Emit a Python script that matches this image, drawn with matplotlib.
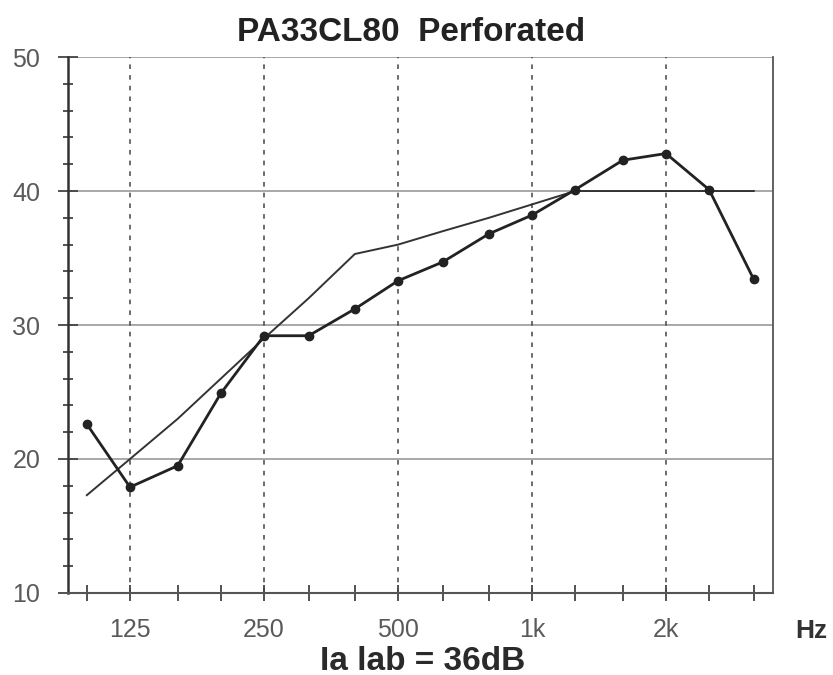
"""
Courbe d'isolement PA33CL80 perfore : mesure en tiers d'octave + courbe de reference.
Sortie : out.png
"""
import matplotlib
matplotlib.use("Agg")
import matplotlib.pyplot as plt
from matplotlib.ticker import FixedLocator, NullFormatter

plt.rcParams["font.family"] = ["Liberation Sans", "DejaVu Sans"]

# %% Donnees
freqs = [100, 125, 160, 200, 250, 315, 400, 500, 630, 800,
         1000, 1250, 1600, 2000, 2500, 3150]
measured = [22.6, 17.9, 19.5, 24.9, 29.2, 29.2, 31.2, 33.3, 34.7, 36.8,
            38.2, 40.1, 42.3, 42.8, 40.1, 33.4]
reference = [17.3, 20, 23, 26, 29, 32, 35.3, 36, 37, 38,
             39, 40, 40, 40, 40, 40]

grid_freqs = [125, 250, 500, 1000, 2000]
grid_labels = ["125", "250", "500", "1k", "2k"]
y_levels = [10, 20, 30, 40, 50]

title = "PA33CL80  Perforated"
result_text = "Ia lab = 36dB"

# %% Figure
fig = plt.figure(figsize=(8.33, 6.75), dpi=100)
ax = fig.add_axes([0.0816, 0.1215, 0.8463, 0.794])
ax.set_xscale("log")
ax.set_xlim(90.7, 3478)
ax.set_ylim(10, 50)

for y in [20, 30, 40, 50]:
    ax.axhline(y, color="#9a9a9a", lw=1.2, zorder=1)
for f in grid_freqs:
    ax.axvline(f, color="#444444", lw=1.1, ls=(0, (3, 4)), zorder=1)

ax.plot(freqs, reference, color="#333333", lw=1.4, zorder=2)
ax.plot(freqs, measured, color="#222222", lw=2.0, marker="o",
        markersize=6, zorder=3)

# axes
ax.spines["top"].set_visible(False)
ax.spines["left"].set_color("#333333")
ax.spines["left"].set_linewidth(1.8)
ax.spines["bottom"].set_color("#555555")
ax.spines["bottom"].set_linewidth(1.5)
ax.spines["right"].set_color("#555555")
ax.spines["right"].set_linewidth(1.3)

ax.xaxis.set_major_locator(FixedLocator(grid_freqs))
ax.xaxis.set_minor_locator(FixedLocator(freqs))
ax.set_xticklabels(grid_labels)
ax.xaxis.set_minor_formatter(NullFormatter())
ax.tick_params(axis="x", which="both", direction="inout", length=12,
               width=1.3, color="#444444", labelsize=18,
               labelcolor="#5a5a5a", pad=12)

ax.yaxis.set_major_locator(FixedLocator(y_levels))
ax.yaxis.set_minor_locator(FixedLocator(range(10, 51, 2)))
ax.tick_params(axis="y", which="major", direction="inout", length=14,
               width=1.3, color="#444444", labelsize=18,
               labelcolor="#5a5a5a", pad=13)
ax.tick_params(axis="y", which="minor", direction="inout", length=7,
               width=1.3, color="#444444")

fig.text(0.493, 0.952, title, ha="center", va="center",
         fontsize=24, fontweight="bold", color="#222222")
fig.text(0.507, 0.008, result_text, ha="center", va="baseline",
         fontsize=24, fontweight="bold", color="#2a2a2a")
fig.text(0.974, 0.065, "Hz", ha="center", va="center", fontsize=19,
         fontweight="bold", color="#333333")

fig.savefig("out.png", dpi=100)
